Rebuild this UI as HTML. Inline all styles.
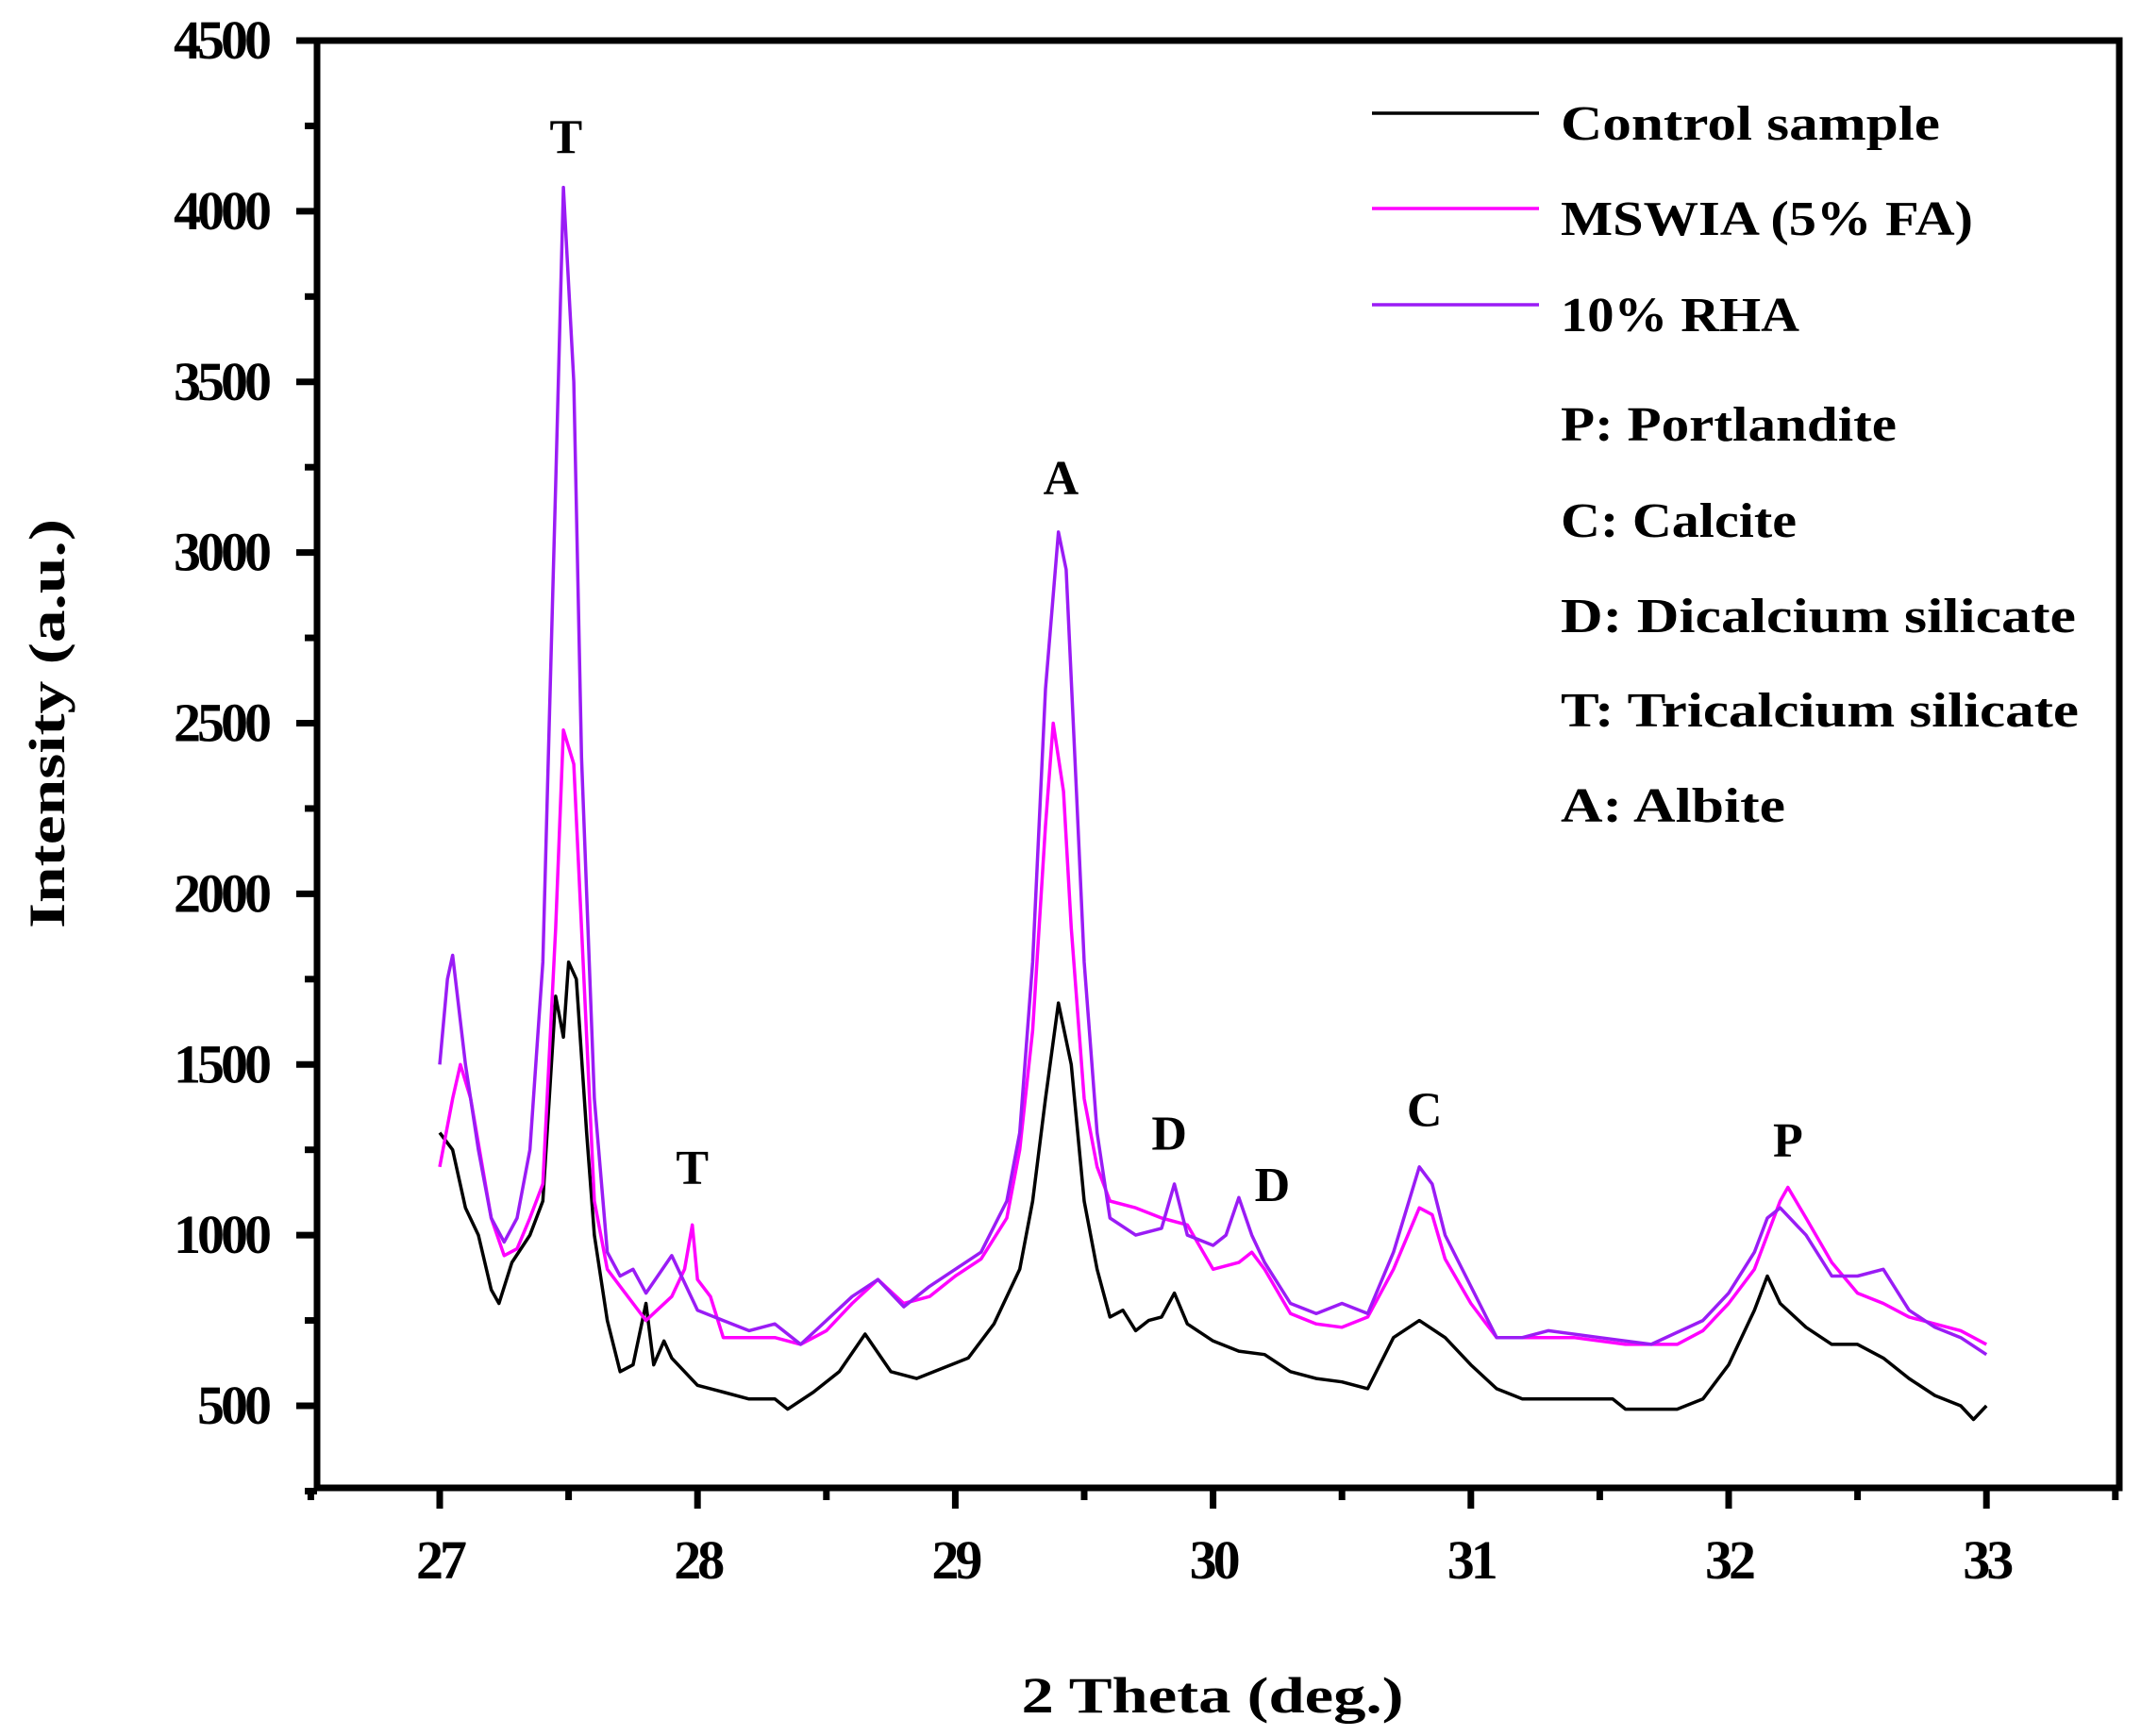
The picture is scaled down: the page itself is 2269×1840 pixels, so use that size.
<!DOCTYPE html>
<html><head><meta charset="utf-8"><style>html,body{margin:0;padding:0;background:#fff}svg{display:block}</style></head>
<body>
<svg id="chart" width="2269" height="1840" viewBox="0 0 2269 1840" xmlns="http://www.w3.org/2000/svg" font-family="'Liberation Serif', serif" font-weight="bold"></svg>
<script>
const xTicks=[27,28,29,30,31,32,33];
const yTicks=[500,1000,1500,2000,2500,3000,3500,4000,4500];
const ctrlX=[27.0,27.05,27.1,27.15,27.2,27.23,27.28,27.35,27.4,27.45,27.48,27.5,27.53,27.57,27.6,27.65,27.7,27.75,27.8,27.83,27.87,27.9,28.0,28.1,28.2,28.3,28.35,28.45,28.55,28.65,28.75,28.85,28.95,29.05,29.15,29.25,29.3,29.35,29.4,29.45,29.5,29.55,29.6,29.65,29.7,29.75,29.8,29.85,29.9,30.0,30.1,30.2,30.3,30.4,30.5,30.6,30.7,30.8,30.9,31.0,31.1,31.2,31.4,31.55,31.6,31.8,31.9,32.0,32.1,32.15,32.2,32.3,32.4,32.5,32.6,32.7,32.8,32.9,32.95,33.0];
const ctrlY=[1300,1250,1080,1000,840,800,920,1000,1100,1700,1580,1800,1750,1300,1000,750,600,620,800,620,690,640,560,540,520,520,490,540,600,710,600,580,610,640,740,900,1100,1400,1680,1500,1100,900,760,780,720,750,760,830,740,690,660,650,600,580,570,550,700,750,700,620,550,520,520,520,490,490,520,620,780,880,800,730,680,680,640,580,530,500,460,500];
const mswX=[27.0,27.05,27.08,27.12,27.2,27.25,27.3,27.35,27.4,27.45,27.48,27.52,27.55,27.6,27.65,27.7,27.8,27.9,27.95,27.98,28.0,28.05,28.1,28.2,28.3,28.4,28.5,28.6,28.7,28.8,28.9,29.0,29.1,29.2,29.25,29.3,29.35,29.38,29.42,29.45,29.5,29.55,29.6,29.7,29.8,29.9,30.0,30.1,30.15,30.2,30.3,30.4,30.5,30.6,30.7,30.8,30.85,30.9,31.0,31.1,31.2,31.4,31.6,31.8,31.9,32.0,32.1,32.2,32.23,32.3,32.4,32.5,32.6,32.7,32.8,32.9,33.0];
const mswY=[1200,1400,1500,1400,1050,940,960,1050,1150,1900,2480,2380,1900,1100,900,850,750,820,900,1030,870,820,700,700,700,680,720,800,870,800,820,880,930,1050,1250,1600,2200,2500,2300,1900,1400,1200,1100,1080,1050,1030,900,920,950,900,770,740,730,760,900,1080,1060,930,800,700,700,700,680,680,720,800,900,1100,1140,1050,920,830,800,760,740,720,680];
const rhaX=[27.0,27.03,27.05,27.1,27.15,27.2,27.25,27.3,27.35,27.4,27.45,27.48,27.52,27.55,27.6,27.65,27.7,27.75,27.8,27.9,28.0,28.1,28.2,28.3,28.4,28.5,28.6,28.7,28.8,28.9,29.0,29.1,29.2,29.25,29.3,29.35,29.4,29.43,29.47,29.5,29.55,29.6,29.7,29.8,29.85,29.9,30.0,30.05,30.1,30.15,30.2,30.3,30.4,30.5,30.6,30.7,30.8,30.85,30.9,31.0,31.1,31.2,31.3,31.5,31.7,31.9,32.0,32.1,32.15,32.2,32.3,32.4,32.5,32.6,32.7,32.8,32.9,33.0];
const rhaY=[1500,1750,1820,1500,1250,1050,980,1050,1250,1800,3200,4070,3500,2400,1400,950,880,900,830,940,780,750,720,740,680,750,820,870,790,850,900,950,1100,1300,1800,2600,3060,2950,2300,1800,1300,1050,1000,1020,1150,1000,970,1000,1110,1000,920,800,770,800,770,950,1200,1150,1000,850,700,700,720,700,680,750,830,950,1050,1080,1000,880,880,900,780,730,700,650];
const peakLabels=["T","T","A","D","D","C","P"];
const peakX=[27.49,27.98,29.41,29.83,30.23,30.82,32.23];
const peakY=[4170,1150,3170,1250,1100,1320,1230];
const legendNames=["Control sample","MSWIA (5% FA)","10% RHA"];
const legendNotes=["P: Portlandite","C: Calcite","D: Dicalcium silicate","T: Tricalcium silicate","A: Albite"];

const NS="http://www.w3.org/2000/svg";
const svg=document.getElementById('chart');
const L=336,R=2246,T=43,B=1577;
const sx=v=>466+(v-27)*273.2;
const sy=v=>1490-(v-500)*0.36175;
function mk(tag,attrs,parent){const e=document.createElementNS(NS,tag);for(const k in attrs)e.setAttribute(k,attrs[k]);(parent||svg).appendChild(e);return e;}

function series(xs,ys,color,name){
  const d=xs.map((x,i)=>(i?'L':'M')+sx(x).toFixed(1)+','+sy(ys[i]).toFixed(1)).join('');
  const p=mk('path',{d:d,fill:'none',stroke:color,'stroke-width':3.5,'stroke-linejoin':'round'});
  
  
}
series(ctrlX,ctrlY,'#000','control-sample-line');
series(mswX,mswY,'#ff00ff','mswia-line');
series(rhaX,rhaY,'#9a1cf5','rha-line');

const frame=mk('rect',{x:L,y:T,width:R-L,height:B-T,fill:'none',stroke:'#000','stroke-width':7});



for(let v=250;v<=4500;v+=250){
  const major=v%500===0;
  mk('line',{x1:L,x2:L-(major?22:13),y1:sy(v),y2:sy(v),stroke:'#000','stroke-width':7});
  if(major&&v>=500){
    const t=mk('text',{x:284,y:sy(v)+19,'text-anchor':'end','font-size':58,'letter-spacing':-4});
    t.textContent=v;
    
    
  }
}
for(let v=26.5;v<=33.5;v+=0.5){
  const major=Number.isInteger(v);
  mk('line',{x1:sx(v),x2:sx(v),y1:B,y2:B+(major?22:13),stroke:'#000','stroke-width':7});
}
xTicks.forEach(v=>{
  const t=mk('text',{x:sx(v),y:1673,'text-anchor':'middle','font-size':58,'letter-spacing':-4});
  t.textContent=v;
  
  
});

const yt=mk('text',{x:0,y:0,transform:'translate(68,767) rotate(-90)','text-anchor':'middle','font-size':54,textLength:434,lengthAdjust:'spacingAndGlyphs'});
yt.textContent='Intensity (a.u.)';


const xt=mk('text',{x:1285,y:1815,'text-anchor':'middle','font-size':54,textLength:405,lengthAdjust:'spacingAndGlyphs'});
xt.textContent='2 Theta (deg.)';



peakLabels.forEach((s,i)=>{
  const t=mk('text',{x:sx(peakX[i]),y:sy(peakY[i]),'text-anchor':'middle','font-size':52});
  t.textContent=s;
  
  
});

const legendColors=['#000','#ff00ff','#9a1cf5'];
const legendW=[402,437,253];
const legLineY=[120,221,323];
legendNames.forEach((s,i)=>{
  const ln=mk('line',{x1:1454,x2:1631,y1:legLineY[i],y2:legLineY[i],stroke:legendColors[i],'stroke-width':3.5});
  
  
  const t=mk('text',{x:1654,y:legLineY[i]+28,'font-size':52,textLength:legendW[i],lengthAdjust:'spacingAndGlyphs'});
  t.textContent=s;
  
  
});
const noteW=[356,250,546,549,238];
const noteY=[467,569,670,770,871];
legendNotes.forEach((s,i)=>{
  const t=mk('text',{x:1654,y:noteY[i],'font-size':52,textLength:noteW[i],lengthAdjust:'spacingAndGlyphs'});
  t.textContent=s;
  
  
});
</script>
</body></html>
